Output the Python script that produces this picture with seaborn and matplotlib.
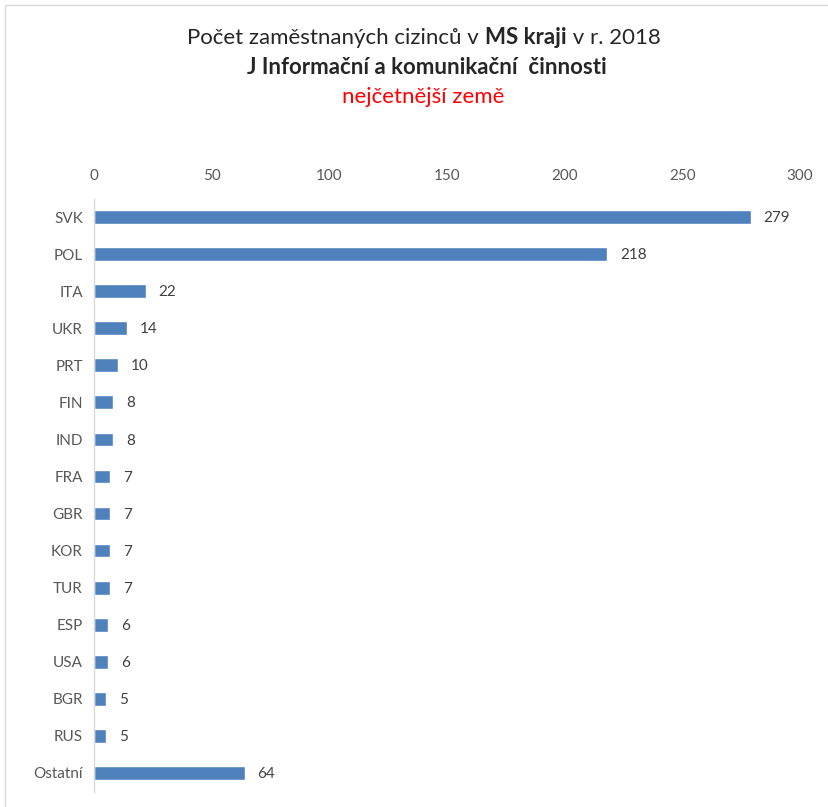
import matplotlib
matplotlib.use("Agg")
import matplotlib.pyplot as plt
import seaborn as sns
import pandas as pd
from matplotlib.patches import Rectangle

countries = ["SVK", "POL", "ITA", "UKR", "PRT", "FIN", "IND", "FRA", "GBR", "KOR",
             "TUR", "ESP", "USA", "BGR", "RUS", "Ostatní"]
values = [279, 218, 22, 14, 10, 8, 8, 7, 7, 7, 7, 6, 6, 5, 5, 64]
xticks = [0, 50, 100, 150, 200, 250, 300]

sns.set_theme(style="white")
plt.rcParams['font.family'] = ['Lato', 'DejaVu Sans']

df = pd.DataFrame({"country": countries, "value": values})

fig = plt.figure(figsize=(8.29, 8.07), dpi=100)
ax = fig.add_axes([94/829, 1 - 791.5/807, (800 - 94)/829, (791.5 - 198.5)/807])

sns.barplot(data=df, x="value", y="country", orient="h", color="#4F81BD",
            saturation=1, width=0.37, ax=ax)

ax.set_xlim(0, 300)
ax.set_xticks(xticks)
ax.xaxis.tick_top()
ax.tick_params(axis="x", length=0, pad=11, labelsize=11, colors="#595959")
ax.tick_params(axis="y", length=0, pad=8, labelsize=11, colors="#595959")
ax.set_xlabel("")
ax.set_ylabel("")
for s in ["top", "right", "bottom"]:
    ax.spines[s].set_visible(False)
ax.spines["left"].set_color("#D9D9D9")
ax.spines["left"].set_linewidth(1)

for i, v in enumerate(values):
    ax.text(v + 5.5, i + 0.03, str(v), va="center", ha="left", fontsize=11, color="#404040")

TS = 16
renderer = fig.canvas.get_renderer()
parts = [("Počet zaměstnaných cizinců v ", "normal"), ("MS kraji", "bold"), (" v r. 2018", "normal")]
texts = []
widths = []
for s, w in parts:
    t = fig.text(0, 1 - 38/807, s, fontsize=TS, fontweight=w, color="#262626", va="center", ha="left")
    texts.append(t)
    widths.append(t.get_window_extent(renderer=renderer).width)
total = sum(widths)
cur = (424 - total / 2) / 829
for t, wd in zip(texts, widths):
    t.set_x(cur)
    cur += wd / 829
fig.text(427/829, 1 - 67/807, "J Informační a komunikační  činnosti", ha="center", va="center",
         fontsize=TS, fontweight="bold", color="#262626")
fig.text(423/829, 1 - 97/807, "nejčetnější země", ha="center", va="center",
         fontsize=TS, color="#FF0000")

fig.patches.append(Rectangle((5/829, -0.01), 1.0, 1 - 5/807 + 0.01, transform=fig.transFigure,
                             fill=False, edgecolor="#D9D9D9", linewidth=1))

fig.savefig("out.png", dpi=100)
